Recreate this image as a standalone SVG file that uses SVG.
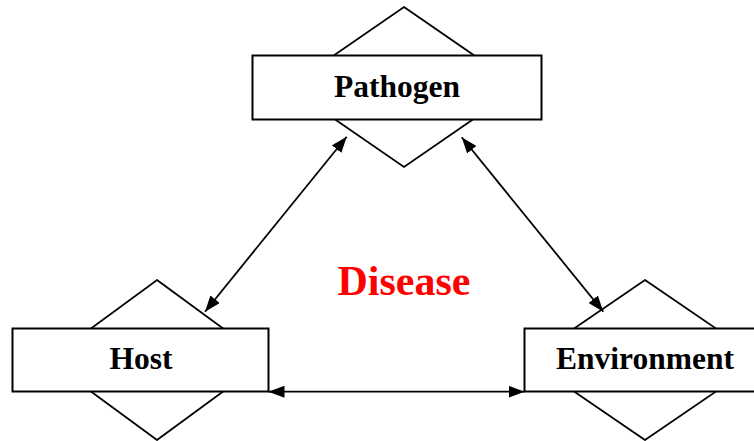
<svg xmlns="http://www.w3.org/2000/svg" width="754" height="441" viewBox="0 0 754 441">
<style>
.dia{fill:#fff;stroke:#000;stroke-width:1.8}
.box{fill:#fff;stroke:#000;stroke-width:2}
.lbl{font-family:"Liberation Serif","Times New Roman",serif;font-weight:bold;font-size:31.5px;text-anchor:middle;fill:#000}
.conn{stroke:#000;stroke-width:1.8;fill:none;marker-start:url(#ah);marker-end:url(#ah)}
</style>
<defs>
<marker id="ah" viewBox="0 0 16 12" refX="16" refY="6" markerWidth="16" markerHeight="12" markerUnits="userSpaceOnUse" orient="auto-start-reverse">
<path d="M0,0 L16,6 L0,12 Z" fill="#000"/>
</marker>
</defs>
<rect width="754" height="441" fill="#fff"/>
<g id="pathogen">
<polygon class="dia" points="404,7 520,87 404,167 288,87"/>
<rect class="box" x="252.5" y="55.5" width="289" height="64"/>
<text class="lbl" x="397" y="97">Pathogen</text>
</g>
<g id="host">
<polygon class="dia" points="157,280 266,360 157,440 48,360"/>
<rect class="box" x="12.5" y="328.5" width="256" height="63"/>
<text class="lbl" x="141" y="369">Host</text>
</g>
<g id="environment">
<polygon class="dia" points="645,280 762,360 645,440 528,360"/>
<rect class="box" x="524.5" y="328.5" width="240" height="63"/>
<text class="lbl" x="645" y="369">Environment</text>
</g>
<g id="disease">
<text x="404" y="295" style="font-family:'Liberation Serif','Times New Roman',serif;font-weight:bold;font-size:42px;text-anchor:middle;fill:#ff0000">Disease</text>
</g>
<g id="connectors">
<line class="conn" x1="346.7" y1="136.7" x2="205" y2="311.7"/>
<line class="conn" x1="461.7" y1="137.3" x2="603.3" y2="311.7"/>
<line class="conn" x1="268.5" y1="391.7" x2="524.5" y2="391.7"/>
</g>
</svg>
